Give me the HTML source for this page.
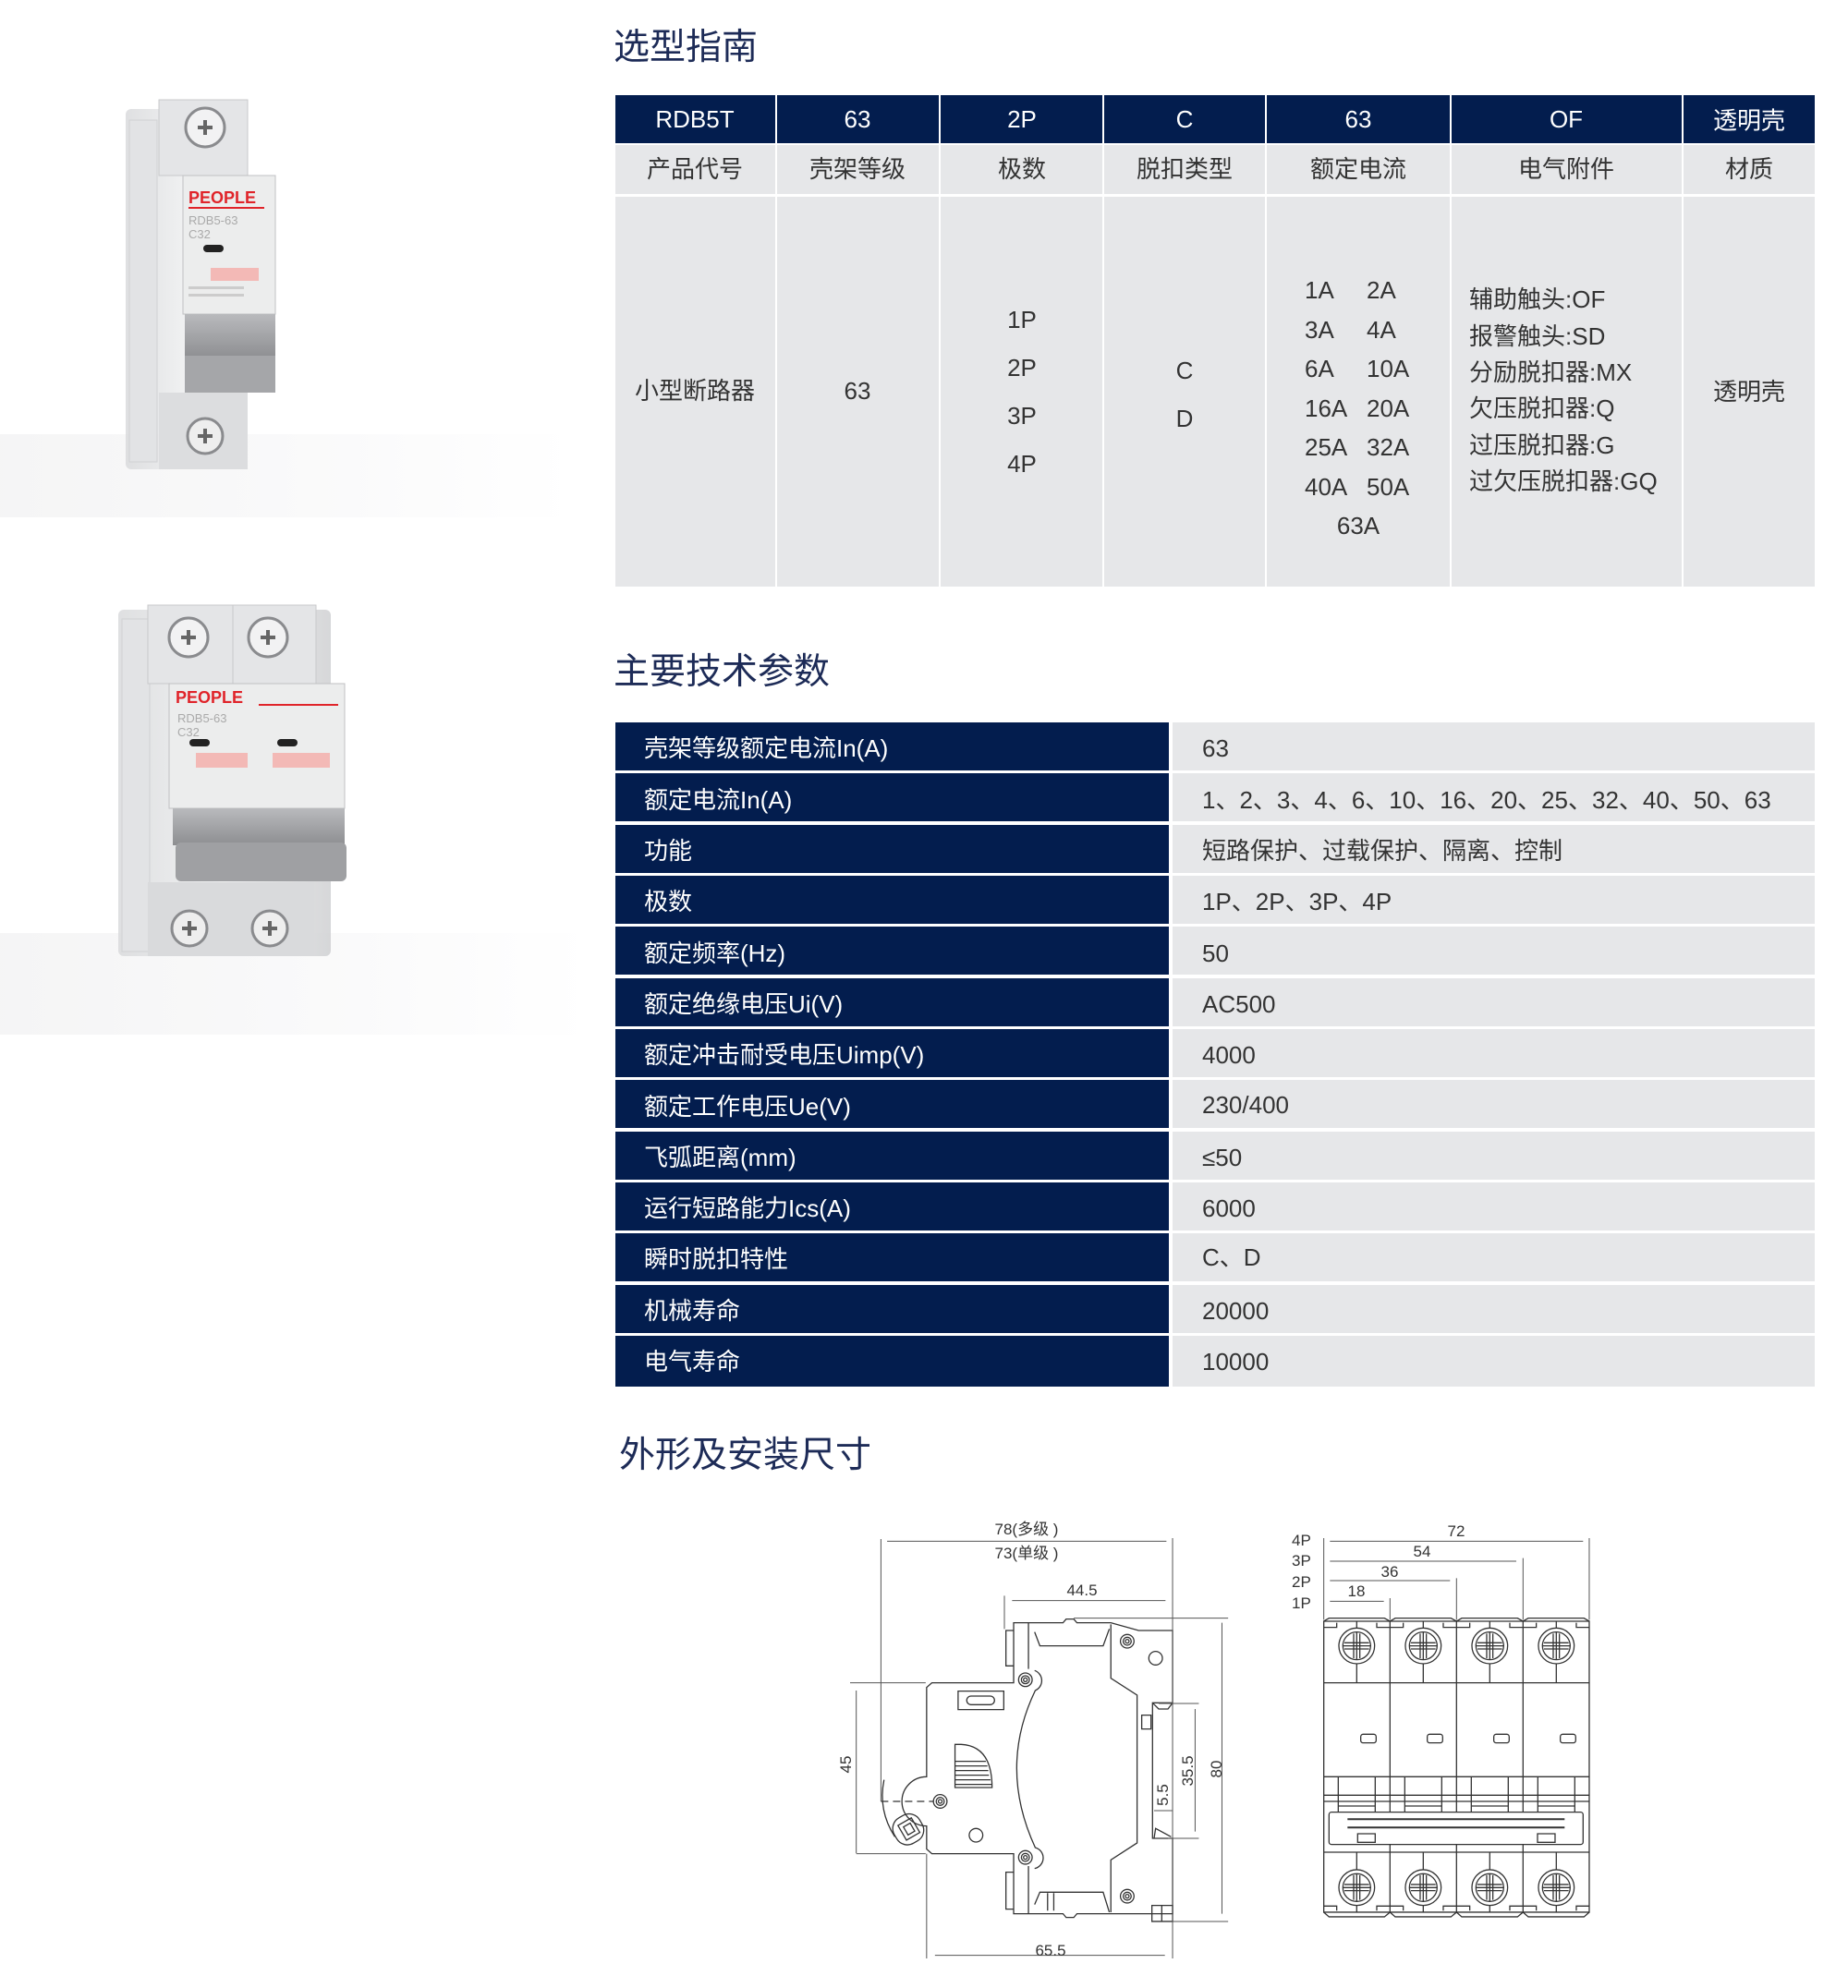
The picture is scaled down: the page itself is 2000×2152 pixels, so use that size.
<!DOCTYPE html>
<html><head><meta charset="utf-8"><style>
html,body{margin:0;padding:0;background:#fff;}
svg{display:block;}
text{font-family:"Liberation Sans","Noto Sans CJK SC",sans-serif;}
.cj{font-family:"Noto Sans CJK SC","Liberation Sans",sans-serif;}
</style></head><body>
<svg width="2000" height="2152" viewBox="0 0 2000 2152" xmlns="http://www.w3.org/2000/svg">
<defs>
<linearGradient id="sh" x1="0" y1="0" x2="1" y2="0"><stop offset="0" stop-color="#eeeeef"/><stop offset="0.6" stop-color="#f7f7f8"/><stop offset="1" stop-color="#fff"/></linearGradient>
<linearGradient id="gb" x1="0" y1="0" x2="1" y2="0"><stop offset="0" stop-color="#d9dadc"/><stop offset="0.5" stop-color="#eeeff0"/><stop offset="1" stop-color="#cfd0d2"/></linearGradient>
<linearGradient id="hd" x1="0" y1="0" x2="0" y2="1"><stop offset="0" stop-color="#b9babd"/><stop offset="1" stop-color="#8d8e91"/></linearGradient>
</defs>

<rect x="0" y="470" width="620" height="90" fill="url(#sh)" opacity="0.6"/>
<rect x="0" y="1010" width="640" height="110" fill="url(#sh)" opacity="0.6"/>

<!-- product 1 -->
<g>
<rect x="136" y="118" width="132" height="390" rx="6" fill="url(#gb)" opacity="0.85"/>
<rect x="140" y="130" width="30" height="370" fill="#e2e3e5" stroke="#d0d1d3"/>
<rect x="172" y="108" width="96" height="82" fill="#e4e5e7" stroke="#c8c9cb"/>
<circle cx="222" cy="138" r="21" fill="#f2f2f3" stroke="#8a8b8e" stroke-width="3"/>
<path d="M214 138h16M222 130v16" stroke="#666" stroke-width="4"/>
<rect x="198" y="190" width="100" height="150" fill="#eceded" stroke="#c0c1c3"/>
<text x="204" y="220" font-size="18" font-weight="bold" fill="#e0242a">PEOPLE</text>
<rect x="204" y="224" width="82" height="2" fill="#e0242a"/>
<text x="204" y="243" font-size="13" fill="#aaa">RDB5-63</text>
<text x="204" y="258" font-size="13" fill="#aaa">C32</text>
<rect x="220" y="265" width="22" height="8" rx="4" fill="#222"/>
<rect x="228" y="290" width="52" height="14" fill="#f3b9b6"/>
<rect x="204" y="310" width="60" height="3" fill="#ccc"/><rect x="204" y="318" width="60" height="3" fill="#ccc"/>
<rect x="200" y="340" width="98" height="48" fill="url(#hd)"/>
<rect x="200" y="385" width="98" height="40" fill="#a5a6a9"/>
<rect x="172" y="425" width="96" height="83" fill="#dcdddf"/>
<circle cx="222" cy="472" r="19" fill="#eee" stroke="#8a8b8e" stroke-width="3"/>
<path d="M214 472h16M222 464v16" stroke="#666" stroke-width="4"/>
</g>
<!-- product 2 -->
<g>
<rect x="128" y="660" width="230" height="375" rx="6" fill="url(#gb)" opacity="0.85"/>
<rect x="132" y="670" width="30" height="360" fill="#e2e3e5" stroke="#d0d1d3"/>
<rect x="160" y="655" width="96" height="85" fill="#e4e5e7" stroke="#c8c9cb"/>
<rect x="252" y="655" width="90" height="85" fill="#e4e5e7" stroke="#c8c9cb"/>
<circle cx="204" cy="690" r="21" fill="#f2f2f3" stroke="#8a8b8e" stroke-width="3"/>
<path d="M196 690h16M204 682v16" stroke="#666" stroke-width="4"/>
<circle cx="290" cy="690" r="21" fill="#f2f2f3" stroke="#8a8b8e" stroke-width="3"/>
<path d="M282 690h16M290 682v16" stroke="#666" stroke-width="4"/>
<rect x="183" y="740" width="190" height="135" fill="#eceded" stroke="#c0c1c3"/>
<text x="190" y="755" font-size="18" font-weight="bold" fill="#e0242a" dominant-baseline="central">PEOPLE</text>
<rect x="280" y="762" width="86" height="2" fill="#e0242a"/>
<text x="192" y="782" font-size="13" fill="#aaa">RDB5-63</text>
<text x="192" y="797" font-size="13" fill="#aaa">C32</text>
<rect x="205" y="800" width="22" height="8" rx="4" fill="#222"/>
<rect x="300" y="800" width="22" height="8" rx="4" fill="#222"/>
<rect x="212" y="815" width="56" height="16" fill="#f3b9b6"/>
<rect x="295" y="815" width="62" height="16" fill="#f3b9b6"/>
<rect x="187" y="875" width="186" height="40" fill="url(#hd)"/>
<rect x="190" y="912" width="185" height="42" rx="6" fill="#9fa0a3"/>
<rect x="160" y="955" width="180" height="80" fill="#d9dadc"/>
<circle cx="205" cy="1005" r="19" fill="#eee" stroke="#8a8b8e" stroke-width="3"/>
<path d="M197 1005h16M205 997v16" stroke="#666" stroke-width="4"/>
<circle cx="292" cy="1005" r="19" fill="#eee" stroke="#8a8b8e" stroke-width="3"/>
<path d="M284 1005h16M292 997v16" stroke="#666" stroke-width="4"/>
</g>

<text class="cj" x="664" y="48" font-size="39" fill="#1d2b57" dominant-baseline="central">选型指南</text>
<text class="cj" x="664" y="724" font-size="39" fill="#1d2b57" dominant-baseline="central">主要技术参数</text>
<text class="cj" x="670" y="1572" font-size="39" fill="#1d2b57" dominant-baseline="central">外形及安装尺寸</text>

<g font-size="26" text-anchor="middle" dominant-baseline="central">
<g fill="#031d4e">
<rect x="666" y="103" width="173" height="52"/><rect x="841" y="103" width="175" height="52"/>
<rect x="1018" y="103" width="175" height="52"/><rect x="1195" y="103" width="174" height="52"/>
<rect x="1371" y="103" width="198" height="52"/><rect x="1571" y="103" width="249" height="52"/>
<rect x="1822" y="103" width="142" height="52"/>
</g>
<g fill="#e6e7e9">
<rect x="666" y="157" width="173" height="53"/><rect x="841" y="157" width="175" height="53"/>
<rect x="1018" y="157" width="175" height="53"/><rect x="1195" y="157" width="174" height="53"/>
<rect x="1371" y="157" width="198" height="53"/><rect x="1571" y="157" width="249" height="53"/>
<rect x="1822" y="157" width="142" height="53"/>
<rect x="666" y="213" width="173" height="422"/><rect x="841" y="213" width="175" height="422"/>
<rect x="1018" y="213" width="175" height="422"/><rect x="1195" y="213" width="174" height="422"/>
<rect x="1371" y="213" width="198" height="422"/><rect x="1571" y="213" width="249" height="422"/>
<rect x="1822" y="213" width="142" height="422"/>
</g>
<g fill="#fff">
<text x="752" y="129">RDB5T</text><text x="928" y="129">63</text><text x="1106" y="129">2P</text>
<text x="1282" y="129">C</text><text x="1470" y="129">63</text><text x="1695" y="129">OF</text>
<text class="cj" x="1893" y="129">透明壳</text>
</g>
<g fill="#333" class="cj">
<text x="752" y="183">产品代号</text><text x="928" y="183">壳架等级</text><text x="1106" y="183">极数</text>
<text x="1282" y="183">脱扣类型</text><text x="1470" y="183">额定电流</text><text x="1695" y="183">电气附件</text>
<text x="1893" y="183">材质</text>
<text x="752" y="423">小型断路器</text><text x="1893" y="424">透明壳</text>
</g>
<g fill="#333">
<text x="928" y="423">63</text>
<text x="1106" y="346">1P</text><text x="1106" y="398">2P</text><text x="1106" y="450">3P</text><text x="1106" y="502">4P</text>
<text x="1282" y="401">C</text><text x="1282" y="453">D</text>
</g>
<g fill="#333" text-anchor="start">
<text x="1412" y="314">1A</text><text x="1479" y="314">2A</text>
<text x="1412" y="357">3A</text><text x="1479" y="357">4A</text>
<text x="1412" y="399">6A</text><text x="1479" y="399">10A</text>
<text x="1412" y="442">16A</text><text x="1479" y="442">20A</text>
<text x="1412" y="484">25A</text><text x="1479" y="484">32A</text>
<text x="1412" y="527">40A</text><text x="1479" y="527">50A</text>
</g>
<text x="1470" y="569" fill="#333">63A</text>
<g fill="#333" text-anchor="start" class="cj">
<text x="1590" y="324">辅助触头:OF</text><text x="1590" y="364">报警触头:SD</text>
<text x="1590" y="403">分励脱扣器:MX</text><text x="1590" y="442">欠压脱扣器:Q</text>
<text x="1590" y="482">过压脱扣器:G</text><text x="1590" y="521">过欠压脱扣器:GQ</text>
</g>
</g>

<g font-size="26" dominant-baseline="central" class="cj">
<g fill="#031d4e">
<rect x="666" y="782" width="599" height="52"/><rect x="666" y="837" width="599" height="52"/>
<rect x="666" y="893" width="599" height="52"/><rect x="666" y="948" width="599" height="52"/>
<rect x="666" y="1003" width="599" height="52"/><rect x="666" y="1059" width="599" height="52"/>
<rect x="666" y="1114" width="599" height="52"/><rect x="666" y="1169" width="599" height="52"/>
<rect x="666" y="1225" width="599" height="52"/><rect x="666" y="1280" width="599" height="52"/>
<rect x="666" y="1335" width="599" height="52"/><rect x="666" y="1391" width="599" height="52"/>
<rect x="666" y="1446" width="599" height="55"/>
</g>
<g fill="#e6e7e9">
<rect x="1269" y="782" width="695" height="52"/><rect x="1269" y="837" width="695" height="52"/>
<rect x="1269" y="893" width="695" height="52"/><rect x="1269" y="948" width="695" height="52"/>
<rect x="1269" y="1003" width="695" height="52"/><rect x="1269" y="1059" width="695" height="52"/>
<rect x="1269" y="1114" width="695" height="52"/><rect x="1269" y="1169" width="695" height="52"/>
<rect x="1269" y="1225" width="695" height="52"/><rect x="1269" y="1280" width="695" height="52"/>
<rect x="1269" y="1335" width="695" height="52"/><rect x="1269" y="1391" width="695" height="52"/>
<rect x="1269" y="1446" width="695" height="55"/>
</g>
<g fill="#fff">
<text x="697" y="810">壳架等级额定电流In(A)</text>
<text x="697" y="866">额定电流In(A)</text>
<text x="697" y="921">功能</text>
<text x="697" y="976">极数</text>
<text x="697" y="1032">额定频率(Hz)</text>
<text x="697" y="1087">额定绝缘电压Ui(V)</text>
<text x="697" y="1142">额定冲击耐受电压Uimp(V)</text>
<text x="697" y="1198">额定工作电压Ue(V)</text>
<text x="697" y="1253">飞弧距离(mm)</text>
<text x="697" y="1308">运行短路能力Ics(A)</text>
<text x="697" y="1363">瞬时脱扣特性</text>
<text x="697" y="1419">机械寿命</text>
<text x="697" y="1474">电气寿命</text>
</g>
<g fill="#333">
<text x="1301" y="810">63</text>
<text x="1301" y="866">1、2、3、4、6、10、16、20、25、32、40、50、63</text>
<text x="1301" y="921">短路保护、过载保护、隔离、控制</text>
<text x="1301" y="976">1P、2P、3P、4P</text>
<text x="1301" y="1032">50</text>
<text x="1301" y="1087">AC500</text>
<text x="1301" y="1142">4000</text>
<text x="1301" y="1196">230/400</text>
<text x="1301" y="1253">≤50</text>
<text x="1301" y="1308">6000</text>
<text x="1301" y="1361">C、D</text>
<text x="1301" y="1419">20000</text>
<text x="1301" y="1474">10000</text>
</g>
</g>

<g transform="translate(920,1640) scale(0.334,0.3333)" fill="none" stroke="#333" stroke-width="1.3">
<path vector-effect="non-scaling-stroke" d="M530 350 L690 350 L700 338 L725 338 L735 350 L845 350 L935 375 L1045 375 L1045 610 L980 610 L980 1050 L1045 1050 L1045 1295 L935 1295 L845 1295 L735 1295 L725 1307 L700 1307 L690 1295 L530 1295 L530 1100 L265 1100 L248 1085 L248 1010 A80 80 0 0 1 248 850 L248 560 L265 545 L530 545 Z"/>
<path vector-effect="non-scaling-stroke" d="M530 375 L505 375 L505 490 L530 490 M530 1160 L505 1160 L505 1280 L530 1280"/>
<path vector-effect="non-scaling-stroke" d="M578 350 L578 500 M578 1140 L578 1295"/>
<path vector-effect="non-scaling-stroke" d="M598 380 L615 425 L820 425 L840 370 M598 1265 L615 1225 L820 1225 L840 1290"/>
<path vector-effect="non-scaling-stroke" d="M598 505 A35 35 0 0 1 600 570 Q480 820 600 1080 A35 35 0 0 1 598 1148"/>
<path vector-effect="non-scaling-stroke" d="M845 355 L845 530 L930 585 L930 1065 L845 1120 L845 1290"/>
<path vector-effect="non-scaling-stroke" d="M980 610 L1000 630 L1030 630 L1045 610 M945 650 L975 650 L975 695 L945 695 Z M985 1050 L990 1018 L1040 1045 M978 1268 L1045 1268 L1045 1320 L978 1320 Z M1010 1268 L1010 1320"/>
<path vector-effect="non-scaling-stroke" d="M640 1228 L640 1285 M660 1228 L660 1285"/>
<rect vector-effect="non-scaling-stroke" x="350" y="572" width="148" height="60"/>
<rect vector-effect="non-scaling-stroke" x="378" y="588" width="90" height="28" rx="14"/>
<path vector-effect="non-scaling-stroke" d="M340 745 L360 745 Q460 750 460 885 L340 885 Z"/>
<path vector-effect="non-scaling-stroke" d="M340 800 L440 800 M340 815 L445 815 M340 830 L448 830 M340 845 L450 845 M340 860 L455 860 M340 875 L458 875"/>
<circle vector-effect="non-scaling-stroke" cx="990" cy="465" r="22"/>
<circle vector-effect="non-scaling-stroke" cx="408" cy="1040" r="22"/>
<g>
<circle vector-effect="non-scaling-stroke" cx="898" cy="410" r="22"/><circle vector-effect="non-scaling-stroke" cx="898" cy="410" r="13"/><circle vector-effect="non-scaling-stroke" cx="898" cy="410" r="6"/>
<circle vector-effect="non-scaling-stroke" cx="568" cy="535" r="22"/><circle vector-effect="non-scaling-stroke" cx="568" cy="535" r="13"/><circle vector-effect="non-scaling-stroke" cx="568" cy="535" r="6"/>
<circle vector-effect="non-scaling-stroke" cx="568" cy="1112" r="22"/><circle vector-effect="non-scaling-stroke" cx="568" cy="1112" r="13"/><circle vector-effect="non-scaling-stroke" cx="568" cy="1112" r="6"/>
<circle vector-effect="non-scaling-stroke" cx="898" cy="1238" r="22"/><circle vector-effect="non-scaling-stroke" cx="898" cy="1238" r="13"/><circle vector-effect="non-scaling-stroke" cx="898" cy="1238" r="6"/>
<circle vector-effect="non-scaling-stroke" cx="292" cy="930" r="22"/><circle vector-effect="non-scaling-stroke" cx="292" cy="930" r="13"/><circle vector-effect="non-scaling-stroke" cx="292" cy="930" r="6"/>
</g>
<g transform="rotate(-30 185 1020)">
<rect vector-effect="non-scaling-stroke" x="140" y="975" width="95" height="95" rx="40"/>
<rect vector-effect="non-scaling-stroke" x="165" y="995" width="50" height="55"/>
<rect vector-effect="non-scaling-stroke" x="178" y="1008" width="25" height="30"/>
</g>
<path vector-effect="non-scaling-stroke" d="M110 860 Q90 960 145 1045"/>
<path vector-effect="non-scaling-stroke" d="M100 930 L270 930" stroke-dasharray="8 5"/>
<path vector-effect="non-scaling-stroke" stroke="#555" stroke-width="1" d="M120 85 L1025 85 M100 78 L100 930 M1045 75 L1045 1440 M525 278 L1022 278 M500 262 L500 370 M725 335 L1225 335 M1205 350 L1205 1295 M1045 1320 L1225 1320 M1000 612 L1130 612 M1118 630 L1118 1028 M1030 1050 L1130 1050 M985 960 L1045 960 M0 545 L245 545 M20 570 L20 1098 M20 1100 L245 1100 M248 1100 L248 1440 M275 1430 L1020 1430"/>
</g>
<g fill="#333" font-size="17" text-anchor="middle">
<text x="1111" y="1661">78(多级 )</text>
<text x="1111" y="1687">73(单级 )</text>
<text x="1171" y="1727">44.5</text>
<text x="1137" y="2117">65.5</text>
<text transform="translate(921,1910) rotate(-90)">45</text>
<text transform="translate(1322,1915) rotate(-90)">80</text>
<text transform="translate(1291,1917) rotate(-90)">35.5</text>
<text transform="translate(1264,1943) rotate(-90)">5.5</text>
</g>

<g transform="translate(1380,1630) scale(0.3333)" fill="none" stroke="#333" stroke-width="1.3">
<path vector-effect="non-scaling-stroke" d="M158 375 L1020 375 L1020 1320 L158 1320 Z"/>
<path vector-effect="non-scaling-stroke" d="M373 375 L373 1320 M589 375 L589 1320 M805 375 L805 1320"/>
<path vector-effect="non-scaling-stroke" d="M158 375 L175 365 L355 365 L373 375 L390 365 L571 365 L589 375 L606 365 L787 365 L805 375 L822 365 L1003 365 L1020 375"/>
<path vector-effect="non-scaling-stroke" d="M158 1320 L175 1335 L355 1335 L373 1320 L390 1335 L571 1335 L589 1320 L606 1335 L787 1335 L805 1320 L822 1335 L1003 1335 L1020 1320"/>
<path vector-effect="non-scaling-stroke" d="M158 395 L200 395 L200 380 M330 380 L330 395 L373 395 M373 395 L416 395 L416 380 M546 380 L546 395 L589 395 M589 395 L632 395 L632 380 M762 380 L762 395 L805 395 M805 395 L848 395 L848 380 M978 380 L978 395 L1020 395"/>
<path vector-effect="non-scaling-stroke" d="M158 1300 L200 1300 L200 1315 M330 1315 L330 1300 L373 1300 M373 1300 L416 1300 L416 1315 M546 1315 L546 1300 L589 1300 M589 1300 L632 1300 L632 1315 M762 1315 L762 1300 L805 1300 M805 1300 L848 1300 L848 1315 M978 1315 L978 1300 L1020 1300"/>
<path vector-effect="non-scaling-stroke" d="M158 575 L1020 575 M158 880 L1020 880 M158 940 L1020 940 M158 960 L1020 960 M158 1125 L1020 1125"/>
<path vector-effect="non-scaling-stroke" d="M265 375 L265 575 M481 375 L481 575 M697 375 L697 575 M913 375 L913 575 M265 1125 L265 1320 M481 1125 L481 1320 M697 1125 L697 1320 M913 1125 L913 1320"/>
<path vector-effect="non-scaling-stroke" d="M205 880 L205 995 M325 880 L325 995 M421 880 L421 995 M541 880 L541 995 M637 880 L637 995 M757 880 L757 995 M853 880 L853 995 M973 880 L973 995 M205 975 L325 975 M421 975 L541 975 M637 975 L757 975 M853 975 L973 975"/>
<rect vector-effect="non-scaling-stroke" x="175" y="995" width="825" height="105" rx="8" fill="#fff"/>
<path vector-effect="non-scaling-stroke" stroke-width="2" d="M235 1018 L940 1018 M235 1045 L940 1045"/>
<rect vector-effect="non-scaling-stroke" x="268" y="1065" width="57" height="28"/>
<rect vector-effect="non-scaling-stroke" x="852" y="1065" width="57" height="28"/>
<rect vector-effect="non-scaling-stroke" x="278" y="742" width="50" height="28" rx="8"/>
<rect vector-effect="non-scaling-stroke" x="494" y="742" width="50" height="28" rx="8"/>
<rect vector-effect="non-scaling-stroke" x="710" y="742" width="50" height="28" rx="8"/>
<rect vector-effect="non-scaling-stroke" x="926" y="742" width="50" height="28" rx="8"/>
<g id="scr">
<circle vector-effect="non-scaling-stroke" cx="265" cy="455" r="58" fill="#fff"/><circle vector-effect="non-scaling-stroke" cx="265" cy="455" r="45"/>
<path vector-effect="non-scaling-stroke" d="M225 445 L305 445 M225 465 L305 465 M255 415 L255 495 M275 415 L275 495 M220 455 L310 455 M265 410 L265 500"/>
</g>
<use href="#scr" x="216"/><use href="#scr" x="432"/><use href="#scr" x="648"/>
<use href="#scr" y="785"/><use href="#scr" x="216" y="785"/><use href="#scr" x="432" y="785"/><use href="#scr" x="648" y="785"/>
<path vector-effect="non-scaling-stroke" stroke="#555" stroke-width="1" d="M178 115 L1000 115 M158 105 L158 370 M1020 105 L1020 370 M178 180 L783 180 M805 170 L805 370 M178 243 L568 243 M589 235 L589 370 M178 310 L353 310 M373 300 L373 370"/>
</g>
<g fill="#333" font-size="17">
<text x="1576" y="1663" text-anchor="middle">72</text>
<text x="1539" y="1685" text-anchor="middle">54</text>
<text x="1504" y="1707" text-anchor="middle">36</text>
<text x="1468" y="1728" text-anchor="middle">18</text>
<text x="1398" y="1673">4P</text>
<text x="1398" y="1695">3P</text>
<text x="1398" y="1718">2P</text>
<text x="1398" y="1741">1P</text>
</g>
</svg>
</body></html>
